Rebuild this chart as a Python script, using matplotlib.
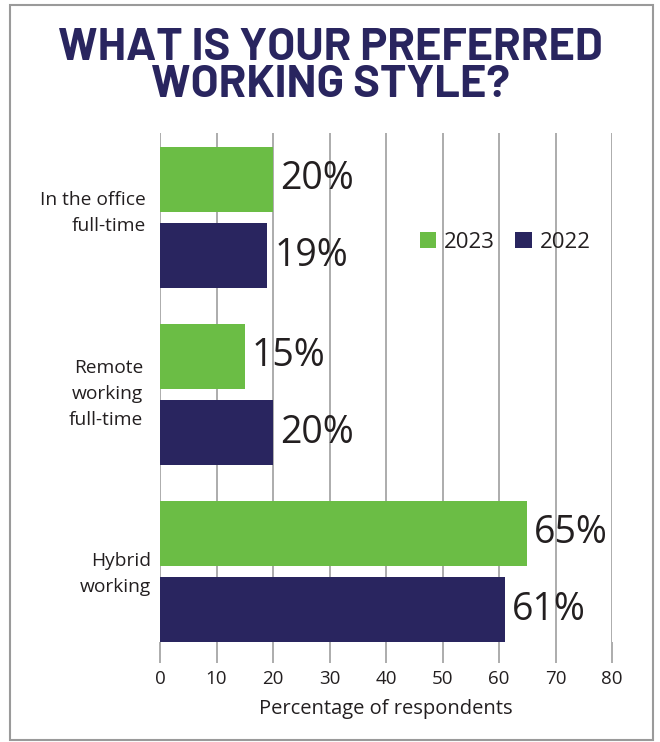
import matplotlib
matplotlib.use("Agg")
import matplotlib.pyplot as plt
from matplotlib.patches import Rectangle
from matplotlib import font_manager as fm
import matplotlib.transforms as mtransforms
import numpy as np

categories = ["In the office\nfull-time", "Remote\nworking\nfull-time", "Hybrid\nworking"]
values_2023 = [20, 15, 65]
values_2022 = [19, 20, 61]
series_names = ["2023", "2022"]
xticks = [0, 10, 20, 30, 40, 50, 60, 70, 80]

GREEN = "#6bbd45"
NAVY = "#29255f"
TEXT = "#231f20"
GRID = "#a6a6a6"

installed = set(f.name for f in fm.fontManager.ttflist)
TITLE = "Barlow" if "Barlow" in installed else "DejaVu Sans"

plt.rcParams['font.family'] = ['Open Sans', 'DejaVu Sans']

fig = plt.figure(figsize=(6.6, 7.42), dpi=100)
fig.patches.append(Rectangle((10/660, 1-740/742), 643/660, 735/742, transform=fig.transFigure,
                             fill=False, edgecolor="#9a9a9a", linewidth=1.5))

ax = fig.add_axes([160/660, 1-642/742, 452/660, 509/742])

y = np.arange(len(categories))
h = 0.367
off = 0.216
ax.barh(y - off, values_2023, height=h, color=GREEN, label=series_names[0], zorder=3)
ax.barh(y + off, values_2022, height=h, color=NAVY, label=series_names[1], zorder=3)

for yi, v in zip(y - off, values_2023):
    ax.text(v + 1.2, yi, f"{v}%", va="center", ha="left", fontsize=27, color=TEXT, zorder=4)
for yi, v in zip(y + off, values_2022):
    ax.text(v + 1.2, yi, f"{v}%", va="center", ha="left", fontsize=27, color=TEXT, zorder=4)

ax.set_xlim(0, 80)
ax.set_ylim(2 + off + h/2, -0.477)
ax.set_yticks(y)
ax.set_yticklabels([])
ax.tick_params(axis="y", length=0)
# category labels, each placed individually as in the reference
label_dx = [-14, -17, -9]   # px from the axes' left edge
label_dy = [-4.5, 0, 3]     # px shift (positive = down)
for yi, lab, dx, dy in zip(y, categories, label_dx, label_dy):
    tr = mtransforms.blended_transform_factory(ax.transAxes, ax.transData) + \
        mtransforms.ScaledTranslation(dx / 100, -dy / 100, fig.dpi_scale_trans)
    ax.text(0, yi, lab, transform=tr, ha="right", va="center", multialignment="right",
            fontsize=13.8, color=TEXT, linespacing=1.58)

ax.set_xticks(xticks)
ax.set_xticklabels([str(t) for t in xticks], fontsize=13.5, color=TEXT)
ax.tick_params(axis="x", length=15, width=1.3, color=GRID, pad=5)
ax.grid(axis="x", color=GRID, linewidth=1.3, zorder=0)
ax.set_axisbelow(True)
for s in ax.spines.values():
    s.set_visible(False)
ax.set_xlabel("Percentage of respondents", fontsize=14.5, color=TEXT, labelpad=8)

leg = ax.legend(loc="center", bbox_to_anchor=(505/660, 1-242/742), bbox_transform=fig.transFigure,
                ncol=2, frameon=False, fontsize=16, handlelength=0.75, handleheight=0.75,
                handletextpad=0.35, columnspacing=0.9)
for t in leg.get_texts():
    t.set_color(TEXT)

fig.text(0.5, 1-67/742, "WHAT IS YOUR PREFERRED\nWORKING STYLE?", ha="center", va="center",
         fontsize=32.5, fontweight="bold", color=NAVY,
         family=[TITLE, "DejaVu Sans"], linespacing=0.9)

fig.savefig("out.png", dpi=100)
